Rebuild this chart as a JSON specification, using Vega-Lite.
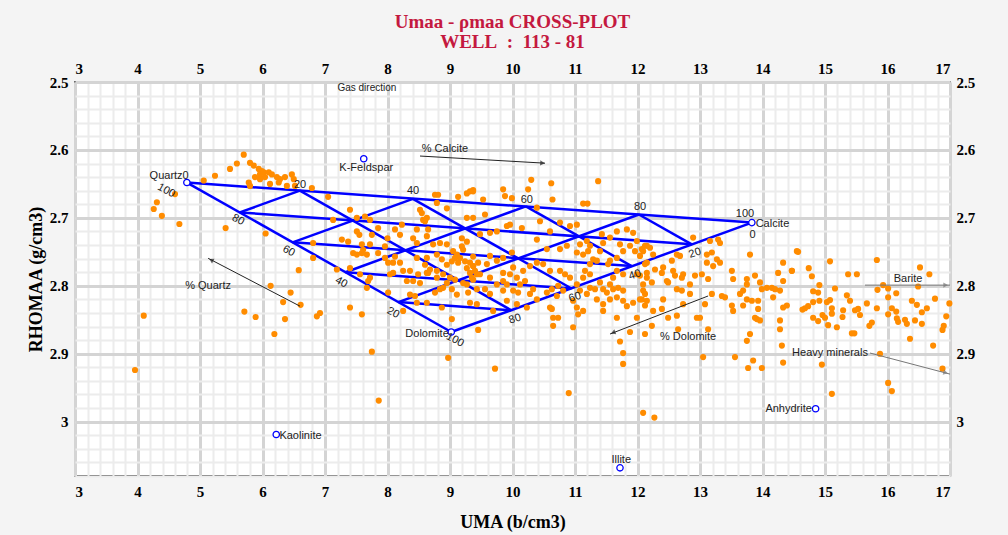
{
"$schema": "https://vega.github.io/schema/vega-lite/v6.json",
"width": 875, "height": 394,
"autosize": "none",
"padding": {"left": 75, "top": 82, "right": 58, "bottom": 59},
"background": "#f4f4f4",
"config": {"view": {"fill": "white", "stroke": "black", "strokeWidth": 1.5}},
"title": {"text": ["Umaa - ρmaa CROSS-PLOT", "WELL\u00a0\u00a0:\u00a0\u00a0113 - 81"], "font": "Liberation Serif", "fontSize": 19, "fontWeight": "bold", "color": "#C4193F", "anchor": "middle", "frame": "group", "lineHeight": 20, "offset": 9},
"datasets": {
"pts": [
{"u":5.70,"r":2.607},{"u":5.59,"r":2.620},{"u":5.48,"r":2.628},{"u":5.80,"r":2.619},{"u":5.86,"r":2.623},{"u":5.94,"r":2.628},{"u":5.99,"r":2.631},{"u":5.96,"r":2.636},{"u":6.02,"r":2.633},{"u":6.04,"r":2.640},{"u":6.10,"r":2.633},{"u":6.15,"r":2.636},{"u":6.23,"r":2.640},{"u":6.28,"r":2.643},{"u":6.36,"r":2.640},{"u":5.88,"r":2.640},{"u":5.78,"r":2.648},{"u":5.80,"r":2.653},{"u":5.96,"r":2.643},{"u":6.12,"r":2.650},{"u":6.26,"r":2.648},{"u":6.39,"r":2.653},{"u":6.47,"r":2.636},{"u":6.50,"r":2.643},{"u":6.52,"r":2.653},{"u":5.24,"r":2.638},{"u":5.06,"r":2.645},{"u":4.60,"r":2.665},{"u":4.31,"r":2.677},{"u":4.26,"r":2.687},{"u":4.39,"r":2.697},{"u":4.67,"r":2.709},{"u":5.41,"r":2.715},{"u":6.05,"r":2.723},{"u":4.10,"r":2.844},{"u":5.71,"r":2.838},{"u":5.89,"r":2.846},{"u":6.19,"r":2.871},{"u":6.36,"r":2.849},{"u":6.33,"r":2.824},{"u":6.45,"r":2.810},{"u":6.61,"r":2.828},{"u":6.58,"r":2.777},{"u":6.13,"r":2.800},{"u":6.87,"r":2.845},{"u":6.92,"r":2.840},
{"u":3.96,"r":2.924},{"u":7.75,"r":2.897},{"u":7.86,"r":2.969},{"u":8.97,"r":2.906},{"u":9.72,"r":2.922},{"u":10.90,"r":2.958},{"u":9.45,"r":2.865},{"u":10.97,"r":2.861},{"u":10.65,"r":2.859},{"u":11.72,"r":2.882},{"u":11.77,"r":2.899},{"u":11.77,"r":2.915},{"u":11.88,"r":2.868},{"u":12.09,"r":2.987},{"u":12.27,"r":2.994},{"u":15.11,"r":2.959},{"u":16.01,"r":2.943},{"u":16.07,"r":2.955},
{"u":6.79,"r":2.656},{"u":7.05,"r":2.669},{"u":7.13,"r":2.703},{"u":7.40,"r":2.688},{"u":7.51,"r":2.700},{"u":7.64,"r":2.698},{"u":7.72,"r":2.703},{"u":7.85,"r":2.715},{"u":7.51,"r":2.720},{"u":7.55,"r":2.725},{"u":7.27,"r":2.732},{"u":7.37,"r":2.735},{"u":7.59,"r":2.739},{"u":7.72,"r":2.739},{"u":7.75,"r":2.725},{"u":8.00,"r":2.730},{"u":8.12,"r":2.717},{"u":8.23,"r":2.710},{"u":8.20,"r":2.725},{"u":7.96,"r":2.742},{"u":7.45,"r":2.752},{"u":7.51,"r":2.754},{"u":7.59,"r":2.752},{"u":7.67,"r":2.754},{"u":7.61,"r":2.747},{"u":7.85,"r":2.752},{"u":7.96,"r":2.759},{"u":8.01,"r":2.766},{"u":8.12,"r":2.757},{"u":8.09,"r":2.766},{"u":8.20,"r":2.766},{"u":8.25,"r":2.778},{"u":8.36,"r":2.778},{"u":8.04,"r":2.783},{"u":8.09,"r":2.781},{"u":7.72,"r":2.788},{"u":7.56,"r":2.783},{"u":7.40,"r":2.774},{"u":7.19,"r":2.776},{"u":6.81,"r":2.759},{"u":6.81,"r":2.737},{"u":7.67,"r":2.803},{"u":7.69,"r":2.793},{"u":8.01,"r":2.810},{"u":8.36,"r":2.813},{"u":8.44,"r":2.815},{"u":8.63,"r":2.825},{"u":8.47,"r":2.825},{"u":8.87,"r":2.832},{"u":9.03,"r":2.849},{"u":8.25,"r":2.837},{"u":7.40,"r":2.832},{"u":7.59,"r":2.842},
{"u":8.76,"r":2.666},{"u":8.81,"r":2.666},{"u":8.95,"r":2.686},{"u":8.79,"r":2.678},{"u":8.52,"r":2.688},{"u":8.55,"r":2.693},{"u":8.57,"r":2.703},{"u":8.63,"r":2.700},{"u":8.60,"r":2.705},{"u":8.65,"r":2.717},{"u":8.47,"r":2.717},{"u":8.41,"r":2.730},{"u":8.47,"r":2.737},{"u":8.63,"r":2.727},{"u":8.73,"r":2.739},{"u":8.84,"r":2.737},{"u":8.95,"r":2.739},{"u":9.27,"r":2.700},{"u":9.13,"r":2.669},{"u":9.27,"r":2.664},{"u":9.32,"r":2.661},{"u":9.37,"r":2.659},{"u":9.27,"r":2.735},{"u":9.19,"r":2.730},{"u":9.19,"r":2.742},{"u":9.21,"r":2.747},{"u":9.05,"r":2.749},{"u":9.11,"r":2.754},{"u":9.16,"r":2.759},{"u":9.08,"r":2.759},{"u":9.03,"r":2.764},{"u":9.13,"r":2.766},{"u":9.24,"r":2.764},{"u":9.32,"r":2.766},{"u":9.37,"r":2.757},{"u":9.37,"r":2.771},{"u":9.27,"r":2.774},{"u":9.32,"r":2.781},{"u":9.40,"r":2.778},{"u":9.43,"r":2.783},{"u":8.95,"r":2.769},{"u":8.79,"r":2.754},{"u":8.63,"r":2.759},{"u":8.47,"r":2.759},{"u":8.60,"r":2.769},{"u":8.65,"r":2.781},{"u":8.68,"r":2.776},{"u":8.79,"r":2.778},{"u":8.79,"r":2.788},{"u":8.89,"r":2.783},{"u":9.00,"r":2.788},{"u":8.95,"r":2.796},{"u":9.03,"r":2.805},{"u":9.08,"r":2.791},{"u":9.21,"r":2.796},{"u":9.27,"r":2.798},{"u":9.37,"r":2.791},{"u":9.11,"r":2.813},{"u":8.89,"r":2.803},{"u":8.84,"r":2.805},{"u":8.76,"r":2.810},{"u":9.32,"r":2.825},{"u":9.43,"r":2.827},{"u":9.29,"r":2.810},{"u":8.63,"r":2.781},{"u":8.41,"r":2.793},{"u":8.31,"r":2.793},{"u":8.52,"r":2.796},{"u":8.49,"r":2.783},{"u":8.87,"r":2.761},
{"u":10.30,"r":2.644},{"u":10.62,"r":2.649},{"u":9.85,"r":2.658},{"u":10.25,"r":2.658},{"u":9.88,"r":2.668},{"u":9.99,"r":2.671},{"u":10.64,"r":2.673},{"u":10.39,"r":2.685},{"u":9.53,"r":2.673},{"u":9.37,"r":2.661},{"u":11.13,"r":2.679},{"u":11.20,"r":2.679},{"u":11.37,"r":2.646},{"u":11.03,"r":2.710},{"u":10.92,"r":2.712},{"u":10.76,"r":2.707},{"u":10.60,"r":2.720},{"u":10.44,"r":2.705},{"u":10.15,"r":2.715},{"u":9.96,"r":2.710},{"u":9.91,"r":2.712},{"u":9.75,"r":2.720},{"u":9.64,"r":2.722},{"u":9.56,"r":2.695},{"u":9.37,"r":2.700},{"u":9.48,"r":2.724},{"u":10.39,"r":2.732},{"u":10.55,"r":2.746},{"u":10.76,"r":2.746},{"u":10.87,"r":2.741},{"u":11.03,"r":2.751},{"u":11.13,"r":2.754},{"u":11.21,"r":2.749},{"u":11.19,"r":2.734},{"u":11.24,"r":2.741},{"u":11.08,"r":2.739},{"u":11.40,"r":2.749},{"u":11.45,"r":2.737},{"u":11.43,"r":2.724},{"u":11.56,"r":2.729},{"u":11.67,"r":2.720},{"u":11.83,"r":2.717},{"u":11.72,"r":2.739},{"u":11.93,"r":2.722},{"u":11.99,"r":2.734},{"u":12.15,"r":2.741},{"u":12.09,"r":2.749},{"u":12.04,"r":2.756},{"u":11.96,"r":2.749},{"u":11.88,"r":2.741},{"u":11.77,"r":2.749},{"u":11.67,"r":2.759},{"u":11.56,"r":2.763},{"u":11.35,"r":2.763},{"u":11.29,"r":2.761},{"u":11.24,"r":2.768},{"u":11.16,"r":2.778},{"u":11.24,"r":2.783},{"u":11.13,"r":2.788},{"u":11.03,"r":2.798},{"u":10.92,"r":2.788},{"u":10.84,"r":2.783},{"u":10.76,"r":2.778},{"u":10.60,"r":2.778},{"u":10.49,"r":2.768},{"u":10.39,"r":2.766},{"u":10.28,"r":2.771},{"u":10.17,"r":2.778},{"u":10.01,"r":2.773},{"u":9.96,"r":2.783},{"u":9.85,"r":2.781},{"u":10.07,"r":2.788},{"u":9.99,"r":2.751},{"u":9.85,"r":2.759},{"u":9.75,"r":2.763},{"u":9.64,"r":2.756},{"u":9.59,"r":2.768},{"u":9.45,"r":2.766},{"u":9.37,"r":2.771},{"u":9.35,"r":2.788},{"u":9.48,"r":2.783},{"u":9.64,"r":2.788},{"u":9.75,"r":2.798},{"u":9.85,"r":2.793},{"u":9.56,"r":2.805},{"u":9.43,"r":2.805},{"u":9.64,"r":2.812},{"u":9.85,"r":2.807},{"u":10.01,"r":2.807},{"u":10.12,"r":2.798},{"u":10.20,"r":2.793},{"u":10.33,"r":2.805},{"u":10.28,"r":2.812},{"u":10.39,"r":2.820},{"u":10.55,"r":2.810},{"u":10.63,"r":2.805},{"u":10.73,"r":2.800},{"u":10.81,"r":2.807},{"u":10.71,"r":2.815},{"u":10.60,"r":2.832},{"u":10.63,"r":2.834},{"u":10.65,"r":2.847},{"u":10.73,"r":2.847},{"u":10.97,"r":2.822},{"u":11.03,"r":2.832},{"u":11.08,"r":2.807},{"u":11.19,"r":2.812},{"u":11.24,"r":2.803},{"u":11.32,"r":2.805},{"u":11.40,"r":2.795},{"u":11.45,"r":2.805},{"u":11.51,"r":2.810},{"u":11.56,"r":2.798},{"u":11.61,"r":2.805},{"u":11.69,"r":2.803},{"u":11.77,"r":2.807},{"u":11.35,"r":2.820},{"u":11.45,"r":2.827},{"u":11.56,"r":2.820},{"u":11.67,"r":2.817},{"u":11.77,"r":2.822},{"u":11.83,"r":2.830},{"u":11.93,"r":2.825},{"u":12.04,"r":2.820},{"u":12.12,"r":2.812},{"u":12.09,"r":2.798},{"u":11.99,"r":2.783},{"u":12.04,"r":2.785},{"u":12.15,"r":2.781},{"u":12.12,"r":2.768},{"u":11.67,"r":2.778},{"u":11.61,"r":2.788},{"u":11.77,"r":2.783},{"u":11.53,"r":2.768},{"u":11.67,"r":2.847},{"u":11.99,"r":2.847},{"u":11.45,"r":2.837},{"u":11.13,"r":2.837},{"u":11.05,"r":2.842},{"u":9.91,"r":2.822},{"u":10.07,"r":2.827},{"u":10.23,"r":2.832},{"u":9.69,"r":2.837},{"u":9.91,"r":2.798},{"u":10.09,"r":2.810},
{"u":12.07,"r":2.746},{"u":12.12,"r":2.741},{"u":12.20,"r":2.744},{"u":12.25,"r":2.754},{"u":12.15,"r":2.766},{"u":12.28,"r":2.776},{"u":12.41,"r":2.773},{"u":12.39,"r":2.781},{"u":12.15,"r":2.788},{"u":12.55,"r":2.763},{"u":12.63,"r":2.754},{"u":12.68,"r":2.756},{"u":12.57,"r":2.778},{"u":12.73,"r":2.783},{"u":12.71,"r":2.788},{"u":12.60,"r":2.785},{"u":12.47,"r":2.793},{"u":12.49,"r":2.795},{"u":12.23,"r":2.795},{"u":12.09,"r":2.807},{"u":12.07,"r":2.820},{"u":12.15,"r":2.822},{"u":12.41,"r":2.820},{"u":12.39,"r":2.834},{"u":12.25,"r":2.837},{"u":12.12,"r":2.829},{"u":12.63,"r":2.805},{"u":12.71,"r":2.807},{"u":12.84,"r":2.798},{"u":12.92,"r":2.785},{"u":13.03,"r":2.783},{"u":13.13,"r":2.790},{"u":13.11,"r":2.766},{"u":13.11,"r":2.754},{"u":13.19,"r":2.751},{"u":13.27,"r":2.761},{"u":13.32,"r":2.766},{"u":13.21,"r":2.771},{"u":13.29,"r":2.732},{"u":13.32,"r":2.737},{"u":12.89,"r":2.729},{"u":13.16,"r":2.734},{"u":13.51,"r":2.778},{"u":13.53,"r":2.790},{"u":13.75,"r":2.790},{"u":13.75,"r":2.798},{"u":13.69,"r":2.807},{"u":13.64,"r":2.812},{"u":13.75,"r":2.820},{"u":13.83,"r":2.822},{"u":13.69,"r":2.829},{"u":13.53,"r":2.837},{"u":13.51,"r":2.829},{"u":13.35,"r":2.815},{"u":13.40,"r":2.817},{"u":13.19,"r":2.812},{"u":13.08,"r":2.827},{"u":12.84,"r":2.812},{"u":12.73,"r":2.827},{"u":12.63,"r":2.844},{"u":12.49,"r":2.847},{"u":12.23,"r":2.859},{"u":12.12,"r":2.871},{"u":12.65,"r":2.864},{"u":13.13,"r":2.864},{"u":12.95,"r":2.847},{"u":13.00,"r":2.847},{"u":13.80,"r":2.754},{"u":13.88,"r":2.785},{"u":13.96,"r":2.795},{"u":13.99,"r":2.805},{"u":14.07,"r":2.803},{"u":14.15,"r":2.803},{"u":14.20,"r":2.805},{"u":14.28,"r":2.807},{"u":14.17,"r":2.817},{"u":14.33,"r":2.832},{"u":14.39,"r":2.829},{"u":14.47,"r":2.778},{"u":14.55,"r":2.749},{"u":14.33,"r":2.766},{"u":14.25,"r":2.781},{"u":14.33,"r":2.793},{"u":13.93,"r":2.822},{"u":13.93,"r":2.834},{"u":13.88,"r":2.847},{"u":13.91,"r":2.849},{"u":13.96,"r":2.851},{"u":14.28,"r":2.851},{"u":14.28,"r":2.864},{"u":13.80,"r":2.871},{"u":13.75,"r":2.881},{"u":13.05,"r":2.905},{"u":13.56,"r":2.905},{"u":13.85,"r":2.910},{"u":13.77,"r":2.921},{"u":13.99,"r":2.921},{"u":14.33,"r":2.913},{"u":14.31,"r":2.888},
{"u":14.57,"r":2.750},{"u":14.47,"r":2.778},{"u":14.74,"r":2.774},{"u":14.79,"r":2.786},{"u":15.08,"r":2.764},{"u":14.91,"r":2.799},{"u":14.81,"r":2.808},{"u":14.89,"r":2.810},{"u":15.16,"r":2.804},{"u":15.37,"r":2.783},{"u":15.51,"r":2.783},{"u":15.83,"r":2.762},{"u":15.93,"r":2.799},{"u":15.84,"r":2.806},{"u":16.01,"r":2.804},{"u":16.14,"r":2.811},{"u":16.01,"r":2.817},{"u":15.67,"r":2.826},{"u":15.35,"r":2.814},{"u":15.40,"r":2.822},{"u":15.08,"r":2.821},{"u":15.03,"r":2.824},{"u":14.91,"r":2.822},{"u":14.81,"r":2.824},{"u":14.73,"r":2.830},{"u":14.68,"r":2.833},{"u":14.64,"r":2.835},{"u":15.11,"r":2.833},{"u":15.29,"r":2.836},{"u":15.48,"r":2.836},{"u":15.53,"r":2.834},{"u":15.56,"r":2.843},{"u":15.83,"r":2.833},{"u":16.07,"r":2.833},{"u":16.14,"r":2.838},{"u":16.01,"r":2.842},{"u":15.28,"r":2.846},{"u":15.11,"r":2.841},{"u":14.96,"r":2.843},{"u":15.00,"r":2.847},{"u":14.81,"r":2.847},{"u":14.89,"r":2.852},{"u":15.05,"r":2.858},{"u":15.19,"r":2.861},{"u":15.71,"r":2.859},{"u":15.75,"r":2.854},{"u":16.15,"r":2.848},{"u":16.17,"r":2.853},{"u":16.28,"r":2.850},{"u":16.31,"r":2.856},{"u":16.44,"r":2.851},{"u":16.55,"r":2.856},{"u":16.47,"r":2.828},{"u":16.39,"r":2.822},{"u":16.55,"r":2.839},{"u":16.63,"r":2.833},{"u":16.76,"r":2.819},{"u":16.49,"r":2.801},{"u":16.52,"r":2.773},{"u":16.67,"r":2.783},{"u":16.99,"r":2.826},{"u":16.94,"r":2.845},{"u":16.90,"r":2.859},{"u":16.88,"r":2.865},{"u":16.36,"r":2.878},{"u":16.73,"r":2.888},{"u":15.43,"r":2.870},{"u":15.47,"r":2.870},{"u":15.88,"r":2.900},{"u":14.95,"r":2.916},{"u":16.88,"r":2.922}
],
"tern": [
{"x1":4.79,"y1":2.648,"x2":13.83,"y2":2.707},
{"x1":4.79,"y1":2.648,"x2":9.02,"y2":2.868},
{"x1":9.02,"y1":2.868,"x2":13.83,"y2":2.707},
{"x1":6.598,"y1":2.660,"x2":9.982,"y2":2.836},
{"x1":8.406,"y1":2.672,"x2":10.944,"y2":2.804},
{"x1":10.214,"y1":2.683,"x2":11.906,"y2":2.771},
{"x1":12.022,"y1":2.695,"x2":12.868,"y2":2.739},
{"x1":6.598,"y1":2.660,"x2":5.636,"y2":2.692},
{"x1":8.406,"y1":2.672,"x2":6.482,"y2":2.736},
{"x1":10.214,"y1":2.683,"x2":7.328,"y2":2.780},
{"x1":12.022,"y1":2.695,"x2":8.174,"y2":2.824},
{"x1":5.636,"y1":2.692,"x2":12.868,"y2":2.739},
{"x1":6.482,"y1":2.736,"x2":11.906,"y2":2.771},
{"x1":7.328,"y1":2.780,"x2":10.944,"y2":2.804},
{"x1":8.174,"y1":2.824,"x2":9.982,"y2":2.836}
],
"minerals": [
{"name":"Quartz","u":4.79,"r":2.648},{"name":"K-Feldspar","u":7.62,"r":2.613},{"name":"Calcite","u":13.83,"r":2.707},{"name":"Dolomite","u":9.02,"r":2.868},{"name":"Kaolinite","u":6.22,"r":3.019},{"name":"Anhydrite","u":14.85,"r":2.981},{"name":"Illite","u":11.72,"r":3.068}
]
},
"resolve": {"axis": {"x": "independent", "y": "independent"}},
"layer": [
{"data": {"name": "tern"},
 "mark": {"type": "rule", "color": "#0000FF", "strokeWidth": 2.5},
 "encoding": {
  "x": {"field": "x1", "type": "quantitative", "scale": {"domain": [3, 17], "nice": false, "zero": false},
        "axis": {"orient": "bottom", "values": [3,3.2,3.4,3.6,3.8,4,4.2,4.4,4.6,4.8,5,5.2,5.4,5.6,5.8,6,6.2,6.4,6.6,6.8,7,7.2,7.4,7.6,7.8,8,8.2,8.4,8.6,8.8,9,9.2,9.4,9.6,9.8,10,10.2,10.4,10.6,10.8,11,11.2,11.4,11.6,11.8,12,12.2,12.4,12.6,12.8,13,13.2,13.4,13.6,13.8,14,14.2,14.4,14.6,14.8,15,15.2,15.4,15.6,15.8,16,16.2,16.4,16.6,16.8,17], "grid": true, "gridColor": "#ececec", "gridWidth": 2, "labels": false, "ticks": false, "domain": false, "title": null}},
  "y": {"field": "y1", "type": "quantitative", "scale": {"domain": [2.5, 3.08], "reverse": true, "nice": false, "zero": false},
        "axis": {"orient": "left", "values": [2.52,2.54,2.56,2.58,2.6,2.62,2.64,2.66,2.68,2.7,2.72,2.74,2.76,2.78,2.8,2.82,2.84,2.86,2.88,2.9,2.92,2.94,2.96,2.98,3,3.02,3.04,3.06,3.08], "grid": true, "gridColor": "#ececec", "gridWidth": 2, "labels": false, "ticks": false, "domain": false, "title": null}},
  "x2": {"field": "x2"}, "y2": {"field": "y2"}
 }},
{"data": {"name": "pts"},
 "mark": {"type": "point", "shape": "circle", "filled": true, "color": "#FF8C00", "size": 38, "opacity": 1},
 "encoding": {
  "x": {"field": "u", "type": "quantitative",
        "axis": {"orient": "top", "values": [3,4,5,6,7,8,9,10,11,12,13,14,15,16,17], "grid": true, "gridColor": "#d4d4d4", "gridWidth": 3, "ticks": false, "domain": false, "labelFont": "Liberation Serif", "labelFontWeight": "bold", "labelFontSize": 15, "labelColor": "#000", "labelPadding": 6, "title": null}},
  "y": {"field": "r", "type": "quantitative",
        "axis": {"orient": "left", "values": [2.5,2.6,2.7,2.8,2.9,3], "format": ".1~f", "grid": true, "gridColor": "#d4d4d4", "gridWidth": 3, "ticks": false, "domain": false, "labelFont": "Liberation Serif", "labelFontWeight": "bold", "labelFontSize": 15, "labelColor": "#000", "labelPadding": 7, "title": "RHOMAA (g/cm3)", "titleFont": "Liberation Serif", "titleFontSize": 18, "titleFontWeight": "bold", "titleColor": "#000", "titlePadding": 4}}
 }},
{"data": {"name": "minerals"},
 "mark": {"type": "point", "shape": "circle", "filled": false, "fill": "white", "fillOpacity": 1, "stroke": "#0000FF", "strokeWidth": 1.3, "size": 40},
 "encoding": {
  "x": {"field": "u", "type": "quantitative",
        "axis": {"orient": "bottom", "values": [3,4,5,6,7,8,9,10,11,12,13,14,15,16,17], "grid": false, "ticks": false, "domain": false, "labelFont": "Liberation Serif", "labelFontWeight": "bold", "labelFontSize": 15, "labelColor": "#000", "labelPadding": 8, "title": "UMA (b/cm3)", "titleFont": "Liberation Serif", "titleFontSize": 18, "titleFontWeight": "bold", "titleColor": "#000", "titlePadding": 14}},
  "y": {"field": "r", "type": "quantitative",
        "axis": {"orient": "right", "values": [2.5,2.6,2.7,2.8,2.9,3], "format": ".1~f", "grid": false, "ticks": false, "domain": false, "labelFont": "Liberation Serif", "labelFontWeight": "bold", "labelFontSize": 15, "labelColor": "#000", "labelPadding": 6, "title": null}}
 }},
{"data": {"values": [
  {"x1":8.52,"y1":2.609,"x2":10.52,"y2":2.6195},
  {"x1":6.6,"y1":2.830,"x2":5.13,"y2":2.7595},
  {"x1":13.13,"y1":2.815,"x2":11.56,"y2":2.871}]},
 "mark": {"type": "rule", "color": "#222", "strokeWidth": 1},
 "encoding": {"x": {"field": "x1", "type": "quantitative", "axis": null}, "y": {"field": "y1", "type": "quantitative", "axis": null}, "x2": {"field": "x2"}, "y2": {"field": "y2"}}},
{"data": {"values": [
  {"x1":15.64,"y1":2.799,"x2":17.0,"y2":2.799},
  {"x1":15.72,"y1":2.899,"x2":17.0,"y2":2.930}]},
 "mark": {"type": "rule", "color": "#777", "strokeWidth": 1},
 "encoding": {"x": {"field": "x1", "type": "quantitative", "axis": null}, "y": {"field": "y1", "type": "quantitative", "axis": null}, "x2": {"field": "x2"}, "y2": {"field": "y2"}}},
{"data": {"values": [
  {"u":10.48,"r":2.6193,"a":3},
  {"u":5.18,"r":2.762,"a":208},
  {"u":11.61,"r":2.869,"a":159}]},
 "mark": {"type": "point", "shape": "triangle-right", "filled": true, "color": "#222", "size": 28},
 "encoding": {"x": {"field": "u", "type": "quantitative", "axis": null}, "y": {"field": "r", "type": "quantitative", "axis": null}, "angle": {"field": "a", "type": "quantitative", "scale": null}}},
{"data": {"values": [
  {"u":16.93,"r":2.799,"a":0},
  {"u":16.93,"r":2.928,"a":15}]},
 "mark": {"type": "point", "shape": "triangle-right", "filled": true, "color": "#777", "size": 28},
 "encoding": {"x": {"field": "u", "type": "quantitative", "axis": null}, "y": {"field": "r", "type": "quantitative", "axis": null}, "angle": {"field": "a", "type": "quantitative", "scale": null}}},
{"data": {"values": [
  {"u":7.66,"r":2.627,"t":"K-Feldspar"},
  {"u":8.92,"r":2.598,"t":"% Calcite"},
  {"u":5.13,"r":2.801,"t":"% Quartz"},
  {"u":12.81,"r":2.875,"t":"% Dolomite"},
  {"u":16.33,"r":2.790,"t":"Barite"},
  {"u":15.08,"r":2.899,"t":"Heavy minerals"},
  {"u":11.74,"r":3.057,"t":"Illite"},
  {"u":6.60,"r":2.651,"t":"20"},
  {"u":8.41,"r":2.661,"t":"40"},
  {"u":10.23,"r":2.673,"t":"60"},
  {"u":12.04,"r":2.684,"t":"80"},
  {"u":13.72,"r":2.695,"t":"100"},
  {"u":13.84,"r":2.725,"t":"0"}]},
 "mark": {"type": "text", "font": "Liberation Sans", "fontSize": 11, "color": "#222", "align": "center", "baseline": "middle"},
 "encoding": {"x": {"field": "u", "type": "quantitative", "axis": null}, "y": {"field": "r", "type": "quantitative", "axis": null}, "text": {"field": "t"}}},
{"data": {"values": [
  {"u":7.67,"r":2.509,"t":"Gas direction"}]},
 "mark": {"type": "text", "font": "Liberation Sans", "fontSize": 10, "color": "#222", "align": "center", "baseline": "middle"},
 "encoding": {"x": {"field": "u", "type": "quantitative", "axis": null}, "y": {"field": "r", "type": "quantitative", "axis": null}, "text": {"field": "t"}}},
{"data": {"values": [
  {"u":4.82,"r":2.638,"t":"Quartz0"},
  {"u":8.98,"r":2.871,"t":"Dolomite"},
  {"u":14.79,"r":2.981,"t":"Anhydrite"}]},
 "mark": {"type": "text", "font": "Liberation Sans", "fontSize": 11, "color": "#222", "align": "right", "baseline": "middle"},
 "encoding": {"x": {"field": "u", "type": "quantitative", "axis": null}, "y": {"field": "r", "type": "quantitative", "axis": null}, "text": {"field": "t"}}},
{"data": {"values": [
  {"u":13.89,"r":2.709,"t":"Calcite"},
  {"u":6.27,"r":3.021,"t":"Kaolinite"}]},
 "mark": {"type": "text", "font": "Liberation Sans", "fontSize": 11, "color": "#222", "align": "left", "baseline": "middle"},
 "encoding": {"x": {"field": "u", "type": "quantitative", "axis": null}, "y": {"field": "r", "type": "quantitative", "axis": null}, "text": {"field": "t"}}},
{"data": {"values": [
  {"u":4.46,"r":2.660,"t":"100"},
  {"u":5.61,"r":2.703,"t":"80"},
  {"u":6.42,"r":2.749,"t":"60"},
  {"u":7.26,"r":2.795,"t":"40"},
  {"u":8.09,"r":2.840,"t":"20"},
  {"u":9.08,"r":2.880,"t":"100"}]},
 "mark": {"type": "text", "font": "Liberation Sans", "fontSize": 11, "color": "#222", "align": "center", "baseline": "middle", "angle": 28},
 "encoding": {"x": {"field": "u", "type": "quantitative", "axis": null}, "y": {"field": "r", "type": "quantitative", "axis": null}, "text": {"field": "t"}}},
{"data": {"values": [
  {"u":10.04,"r":2.849,"t":"80"},
  {"u":11.00,"r":2.817,"t":"60"},
  {"u":11.96,"r":2.784,"t":"40"},
  {"u":12.92,"r":2.752,"t":"20"}]},
 "mark": {"type": "text", "font": "Liberation Sans", "fontSize": 11, "color": "#222", "align": "center", "baseline": "middle", "angle": -18},
 "encoding": {"x": {"field": "u", "type": "quantitative", "axis": null}, "y": {"field": "r", "type": "quantitative", "axis": null}, "text": {"field": "t"}}}
]
}
